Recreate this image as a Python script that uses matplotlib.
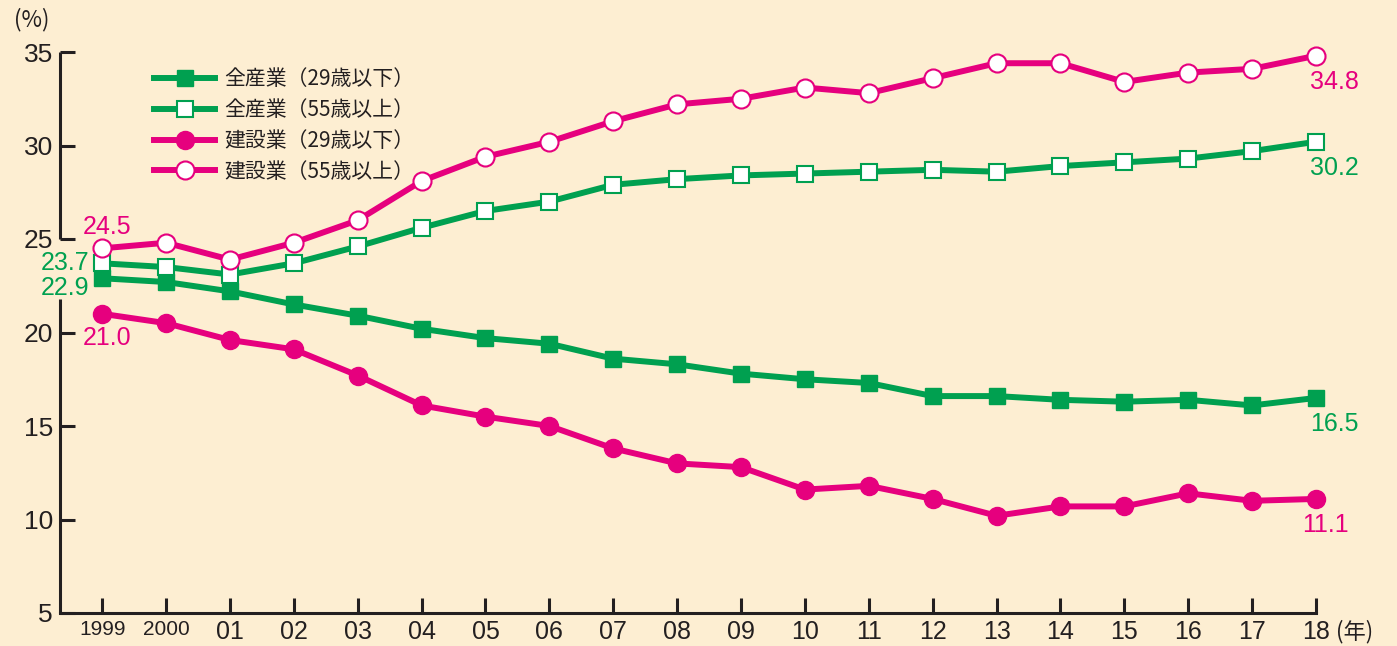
import matplotlib.pyplot as plt
import matplotlib.lines as mlines

# data
years = list(range(1999, 2019))
year_labels = ["1999", "2000", "01", "02", "03", "04", "05", "06", "07", "08",
               "09", "10", "11", "12", "13", "14", "15", "16", "17", "18"]
all_young = [22.9, 22.7, 22.2, 21.5, 20.9, 20.2, 19.7, 19.4, 18.6, 18.3,
             17.8, 17.5, 17.3, 16.6, 16.6, 16.4, 16.3, 16.4, 16.1, 16.5]
all_old = [23.7, 23.5, 23.1, 23.7, 24.6, 25.6, 26.5, 27.0, 27.9, 28.2,
           28.4, 28.5, 28.6, 28.7, 28.6, 28.9, 29.1, 29.3, 29.7, 30.2]
con_young = [21.0, 20.5, 19.6, 19.1, 17.7, 16.1, 15.5, 15.0, 13.8, 13.0,
             12.8, 11.6, 11.8, 11.1, 10.2, 10.7, 10.7, 11.4, 11.0, 11.1]
con_old = [24.5, 24.8, 23.9, 24.8, 26.0, 28.1, 29.4, 30.2, 31.3, 32.2,
           32.5, 33.1, 32.8, 33.6, 34.4, 34.4, 33.4, 33.9, 34.1, 34.8]
legend_labels = ["全産業（29歳以下）", "全産業（55歳以上）",
                 "建設業（29歳以下）", "建設業（55歳以上）"]

bg = "#fdeed2"
green = "#00a050"
pink = "#e6007e"
ink = "#231f20"
num_font = ["Liberation Sans", "DejaVu Sans"]
jp_font = ["Noto Sans CJK JP", "DejaVu Sans"]

fig = plt.figure(figsize=(13.97, 6.46), dpi=100, facecolor=bg)
ax = fig.add_axes([60 / 1397, 1 - 613 / 646, (1316 - 60) / 1397, (613 - 52) / 646])
ax.set_facecolor(bg)
ax.set_xlim(1998.34, 2018)
ax.set_ylim(5, 35)

lw = 4.3
ax.plot(years, all_young, color=green, lw=lw, marker="s", ms=12,
        mfc=green, mec=green, clip_on=False, zorder=3)
ax.plot(years, all_old, color=green, lw=lw, marker="s", ms=12,
        mfc="white", mec=green, mew=1.5, clip_on=False, zorder=3)
ax.plot(years, con_young, color=pink, lw=lw, marker="o", ms=13,
        mfc=pink, mec=pink, clip_on=False, zorder=4)
ax.plot(years, con_old, color=pink, lw=lw, marker="o", ms=13,
        mfc="white", mec=pink, mew=1.5, clip_on=False, zorder=4)

# spines: left one is broken where the start labels sit
for s in ["top", "right", "left"]:
    ax.spines[s].set_visible(False)
ax.spines["bottom"].set_linewidth(2.2)
ax.spines["bottom"].set_color(ink)
ytr = ax.get_yaxis_transform()
ax.plot([0, 0], [5, 21.8], color=ink, lw=2.2, transform=ytr, clip_on=False,
        solid_capstyle="butt")
ax.plot([0, 0], [25, 35], color=ink, lw=2.2, transform=ytr, clip_on=False,
        solid_capstyle="butt")

ax.set_yticks([5, 10, 15, 20, 25, 30, 35])
ax.set_xticks(years)
ax.set_xticklabels(year_labels)
ax.tick_params(axis="y", direction="in", length=11, width=2.2, color=ink,
               labelsize=19, labelcolor=ink, pad=5)
ax.tick_params(axis="x", direction="in", length=11, width=2.2, color=ink,
               labelsize=18, labelcolor=ink, pad=5)
for t in ax.get_yticklabels() + ax.get_xticklabels():
    t.set_family(num_font)
for t in ax.get_xticklabels()[:2]:
    t.set_fontsize(15)

fig.text(14 / 1397, 1 - 20 / 646, "(%)", fontsize=16, color=ink,
         family=jp_font, va="center", ha="left")
fig.text(1336 / 1397, 1 - 632 / 646, "(年)", fontsize=16, color=ink,
         family=jp_font, va="center", ha="left")

# value labels at the ends
lab = dict(fontsize=18, family=num_font)
ax.annotate("24.5", (1999, 24.5), xytext=(-14, 7), textcoords="offset points",
            color=pink, ha="left", va="bottom", **lab)
ax.annotate("23.7", (1999, 23.7), xytext=(-9, 0), textcoords="offset points",
            color=green, ha="right", va="center", **lab)
ax.annotate("22.9", (1999, 22.9), xytext=(-9, -7), textcoords="offset points",
            color=green, ha="right", va="center", **lab)
ax.annotate("21.0", (1999, 21.0), xytext=(-14, -9), textcoords="offset points",
            color=pink, ha="left", va="top", **lab)
ax.annotate("34.8", (2018, 34.8), xytext=(-4, -10), textcoords="offset points",
            color=pink, ha="left", va="top", **lab)
ax.annotate("30.2", (2018, 30.2), xytext=(-4, -10), textcoords="offset points",
            color=green, ha="left", va="top", **lab)
ax.annotate("16.5", (2018, 16.5), xytext=(-4, -10), textcoords="offset points",
            color=green, ha="left", va="top", **lab)
ax.annotate("11.1", (2018, 11.1), xytext=(-10, -10), textcoords="offset points",
            color=pink, ha="left", va="top", **lab)

handles = [
    mlines.Line2D([], [], color=green, lw=lw, marker="s", ms=12, mfc=green, mec=green),
    mlines.Line2D([], [], color=green, lw=lw, marker="s", ms=12, mfc="white", mec=green, mew=1.5),
    mlines.Line2D([], [], color=pink, lw=lw, marker="o", ms=13, mfc=pink, mec=pink),
    mlines.Line2D([], [], color=pink, lw=lw, marker="o", ms=13, mfc="white", mec=pink, mew=1.5),
]
leg = ax.legend(handles, legend_labels, loc="upper left",
                bbox_to_anchor=(86 / 1256, (613 - 60) / 561), frameon=False,
                prop={"family": jp_font, "size": 15}, handlelength=2.9,
                handletextpad=0.45, labelspacing=0.42, borderaxespad=0)
for t in leg.get_texts():
    t.set_color(ink)

fig.savefig("out.png", dpi=100, facecolor=bg)
